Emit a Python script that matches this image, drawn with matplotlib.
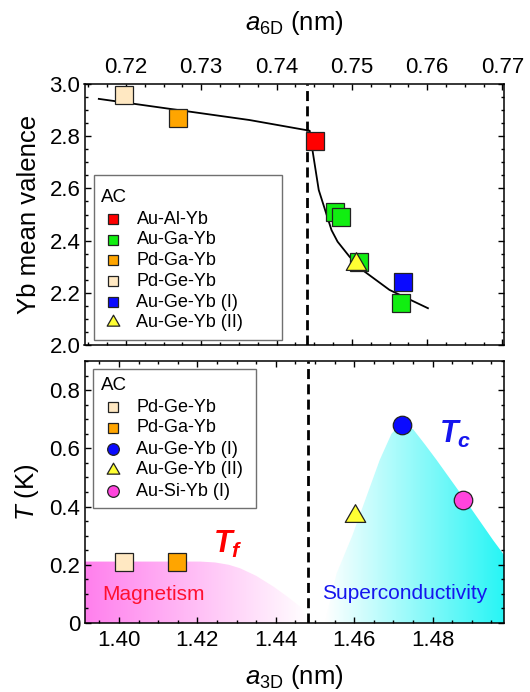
import matplotlib.pyplot as plt
import numpy as np
from matplotlib.patches import Polygon, Rectangle
from matplotlib.path import Path
from matplotlib.ticker import MultipleLocator, FuncFormatter

plt.rcParams['font.family'] = ['Liberation Sans', 'DejaVu Sans']
plt.rcParams['mathtext.fontset'] = 'custom'
plt.rcParams['mathtext.rm'] = 'Liberation Sans'
plt.rcParams['mathtext.it'] = 'Liberation Sans:italic'
plt.rcParams['mathtext.bf'] = 'Liberation Sans:bold'
plt.rcParams['mathtext.bfit'] = 'Liberation Sans:italic:bold'

# ---- top panel: Yb valence vs a6D ----
aual_a6, aual_v = [0.7451], [2.78]
auga_a6 = [0.7477, 0.7486, 0.7510, 0.7565]
auga_v = [2.51, 2.49, 2.318, 2.161]
pdga_a6, pdga_v = [0.7269], [2.868]
pdge_a6, pdge_v = [0.7197], [2.958]
augeI_a6, augeI_v = [0.7568], [2.241]
augeII_a6, augeII_v = [0.7506], [2.31]

# guide-to-the-eye line
guide_a6 = [0.7164, 0.7364, 0.7444, 0.7448, 0.7456, 0.7473, 0.7481, 0.7497, 0.7517, 0.7550, 0.7601]
guide_v = [2.943, 2.862, 2.821, 2.741, 2.594, 2.44, 2.396, 2.338, 2.281, 2.211, 2.141]

# ---- bottom panel: T vs a3D ----
pdge_a3, pdge_T = [1.4012], [0.211]
pdga_a3, pdga_T = [1.4148], [0.211]
augeI_a3, augeI_T = [1.4721], [0.680]
augeII_a3, augeII_T = [1.4602], [0.368]
ausi_a3, ausi_T = [1.4878], [0.421]

# phase regions
mag_a3 = [1.3912, 1.3912, 1.4207, 1.4245, 1.4280, 1.4309, 1.4350, 1.4394, 1.4430,
          1.4462, 1.4475, 1.4483]
mag_T = [0.0, 0.211, 0.211, 0.208, 0.200, 0.188, 0.162, 0.125, 0.090, 0.056, 0.030, 0.0]
sc_a3 = [1.4525, 1.4555, 1.4595, 1.4630, 1.4665, 1.4695, 1.4705, 1.4715, 1.4735, 1.4750,
         1.4780, 1.4810, 1.4877, 1.4954, 1.4982, 1.4982]
sc_T = [0.0, 0.17, 0.30, 0.43, 0.56, 0.650, 0.664, 0.671, 0.672, 0.666, 0.614, 0.56,
        0.434, 0.285, 0.234, 0.0]

boundary_a6, boundary_a3 = 0.7441, 1.4482

top_labels = ['Au-Al-Yb', 'Au-Ga-Yb', 'Pd-Ga-Yb', 'Pd-Ge-Yb', 'Au-Ge-Yb (I)', 'Au-Ge-Yb (II)']
bot_labels = ['Pd-Ge-Yb', 'Pd-Ga-Yb', 'Au-Ge-Yb (I)', 'Au-Ge-Yb (II)', 'Au-Si-Yb (I)']

c_red, c_green, c_orange = '#FF0000', '#11EE11', '#FFA500'
c_beige, c_blue, c_yellow, c_mag = '#FFE8C2', '#0A0AFF', '#FFFF33', '#FF44DD'

# equilateral triangle marker, centred on its centroid
tri = Path([(-1, -0.5774), (1, -0.5774), (0, 1.1547), (-1, -0.5774)],
           [Path.MOVETO, Path.LINETO, Path.LINETO, Path.CLOSEPOLY])

W, H = 530, 692
L, R = 84.5, 504
T1, B1 = 84, 345
T2, B2 = 361, 623

fig = plt.figure(figsize=(W / 100, H / 100), dpi=100)
ax1 = fig.add_axes([L / W, 1 - B1 / H, (R - L) / W, (B1 - T1) / H])
ax2 = fig.add_axes([L / W, 1 - B2 / H, (R - L) / W, (B2 - T2) / H])

mk = dict(markeredgecolor='#222222', markeredgewidth=0.9, linestyle='none')
ms_sq, ms_o, ms_tri = 13.3, 13.3, 17.0
dash = (0, (3.6, 1.9))

# top panel
ax1.plot(guide_a6, guide_v, color='black', lw=1.3, zorder=2)
ax1.axvline(boundary_a6, color='black', lw=2.0, ls=dash, zorder=1)
ax1.plot(pdge_a6, pdge_v, 's', color=c_beige, ms=ms_sq, zorder=3, **mk)
ax1.plot(pdga_a6, pdga_v, 's', color=c_orange, ms=ms_sq, zorder=3, **mk)
ax1.plot(aual_a6, aual_v, 's', color=c_red, ms=ms_sq, zorder=3, **mk)
for a, v in zip(auga_a6, auga_v):
    ax1.plot([a], [v], 's', color=c_green, ms=ms_sq, zorder=3, **mk)
ax1.plot(augeI_a6, augeI_v, 's', color=c_blue, ms=ms_sq, zorder=3, **mk)
ax1.plot(augeII_a6, augeII_v, marker=tri, color=c_yellow, ms=ms_tri, zorder=4, **mk)

ax1.set_xlim(0.7145, 0.7702)
ax1.set_ylim(2.0, 3.0)
ax1.xaxis.set_major_locator(MultipleLocator(0.01))
ax1.xaxis.set_minor_locator(MultipleLocator(0.0025))
ax1.yaxis.set_major_locator(MultipleLocator(0.2))
ax1.yaxis.set_minor_locator(MultipleLocator(0.05))
ax1.xaxis.set_major_formatter(FuncFormatter(lambda x, p: f'{x:.2f}'))
ax1.yaxis.set_major_formatter(FuncFormatter(lambda y, p: f'{y:.1f}'))
ax1.tick_params(which='both', direction='in', top=True, right=True, bottom=True,
                labeltop=True, labelbottom=False, labelsize=16, width=1)
ax1.tick_params(axis='x', pad=4)
ax1.tick_params(axis='y', pad=3)
ax1.tick_params(which='major', length=4.5)
ax1.tick_params(which='minor', length=2.5)
ax1.xaxis.set_label_position('top')
ax1.set_xlabel(r'$a_{\mathrm{6D}}$ (nm)', fontsize=18.5, labelpad=20)
ax1.set_ylabel('Yb mean valence', fontsize=18.5, labelpad=6)

# bottom panel: gradient-shaded regions
def gradient_fill(ax, xs, ys, c_left, c_right, x0, x1):
    poly = Polygon(np.column_stack([xs, ys]), closed=True, facecolor='none', edgecolor='none')
    ax.add_patch(poly)
    t = np.linspace(0, 1, 256)
    cl, cr = np.array(c_left), np.array(c_right)
    img = (cl[None, :] * (1 - t[:, None]) + cr[None, :] * t[:, None])[None, :, :]
    im = ax.imshow(img, extent=[x0, x1, 0, max(ys)], aspect='auto', origin='lower',
                   zorder=0, interpolation='bilinear')
    im.set_clip_path(poly)

gradient_fill(ax2, mag_a3, mag_T, (1.0, 0.50, 0.93), (1.0, 1.0, 1.0), 1.3912, 1.4483)
gradient_fill(ax2, sc_a3, sc_T, (1.0, 1.0, 1.0), (0.15, 0.96, 0.96), 1.4525, 1.4982)

ax2.axvline(boundary_a3, color='black', lw=2.0, ls=dash, zorder=1)
ax2.plot(pdge_a3, pdge_T, 's', color=c_beige, ms=ms_sq, zorder=3, **mk)
ax2.plot(pdga_a3, pdga_T, 's', color=c_orange, ms=ms_sq, zorder=3, **mk)
ax2.plot(augeI_a3, augeI_T, 'o', color=c_blue, ms=ms_o, zorder=3, **mk)
ax2.plot(augeII_a3, augeII_T, marker=tri, color=c_yellow, ms=ms_tri, zorder=3, **mk)
ax2.plot(ausi_a3, ausi_T, 'o', color=c_mag, ms=ms_o, zorder=3, **mk)

ax2.text(1.4089, 0.098, 'Magnetism', color='#FF1030', fontsize=15, ha='center', va='center')
ax2.text(1.4729, 0.100, 'Superconductivity', color='#1515EE', fontsize=15, ha='center', va='center')
ax2.text(1.4277, 0.270, r'$\mathbfit{T}_{\mathbfit{f}}$', color='#FF0000', fontsize=22,
         ha='center', va='center')
ax2.text(1.4858, 0.648, r'$\mathbfit{T}_{\mathbfit{c}}$', color='#1515EE', fontsize=22,
         ha='center', va='center')

ax2.set_xlim(1.3912, 1.4982)
ax2.set_ylim(0, 0.9)
ax2.xaxis.set_major_locator(MultipleLocator(0.02))
ax2.xaxis.set_minor_locator(MultipleLocator(0.005))
ax2.yaxis.set_major_locator(MultipleLocator(0.2))
ax2.yaxis.set_minor_locator(MultipleLocator(0.05))
ax2.xaxis.set_major_formatter(FuncFormatter(lambda x, p: f'{x:.2f}'))
ax2.yaxis.set_major_formatter(FuncFormatter(lambda y, p: '0' if abs(y) < 1e-9 else f'{y:.1f}'))
ax2.tick_params(which='both', direction='in', top=True, right=True, labelsize=16, width=1)
ax2.tick_params(axis='x', pad=5)
ax2.tick_params(axis='y', pad=3)
ax2.tick_params(which='major', length=4.5)
ax2.tick_params(which='minor', length=2.5)
ax2.set_xlabel(r'$a_{\mathrm{3D}}$ (nm)', fontsize=18.5, labelpad=9)
ax2.set_ylabel(r'$T$ (K)', fontsize=18.5, labelpad=6)

# hand-made keys (pixel layout of the reference)
def key(ax, top, bottom, box, title_y, rows, markers, labels):
    def axc(x, y):
        return (x - L) / (R - L), (bottom - y) / (bottom - top)
    x0, y0 = axc(box[0], box[3])
    x1, y1 = axc(box[1], box[2])
    ax.add_patch(Rectangle((x0, y0), x1 - x0, y1 - y0, transform=ax.transAxes,
                           facecolor='white', edgecolor='#707070', lw=1, zorder=5))
    tx, ty = axc(101, title_y)
    ax.text(tx, ty, 'AC', transform=ax.transAxes, fontsize=13.5, ha='left', va='center', zorder=6)
    for (m, c, s), lab, ry in zip(markers, labels, rows):
        mx, my = axc(112.5, ry)
        ax.plot([mx], [my], marker=m, color=c, ms=s, transform=ax.transAxes,
                clip_on=False, zorder=6, **mk)
        lx, _ = axc(136.5, ry)
        ax.text(lx, my, lab, transform=ax.transAxes, fontsize=13, ha='left', va='center', zorder=6)

key(ax1, T1, B1, (94, 282, 175, 340), 197, [219, 240, 260, 281, 302, 322],
    [('s', c_red, 7.9), ('s', c_green, 7.9), ('s', c_orange, 7.9), ('s', c_beige, 7.9),
     ('s', c_blue, 7.9), (tri, c_yellow, 10.5)], top_labels)
key(ax2, T2, B2, (93, 256, 369, 508), 386, [407, 428, 449, 470, 491],
    [('s', c_beige, 7.9), ('s', c_orange, 7.9), ('o', c_blue, 8.4), (tri, c_yellow, 10.5),
     ('o', c_mag, 8.4)], bot_labels)

for ax in (ax1, ax2):
    for s in ax.spines.values():
        s.set_linewidth(1.1)
        s.set_zorder(7)

fig.savefig('out.png', dpi=100)
